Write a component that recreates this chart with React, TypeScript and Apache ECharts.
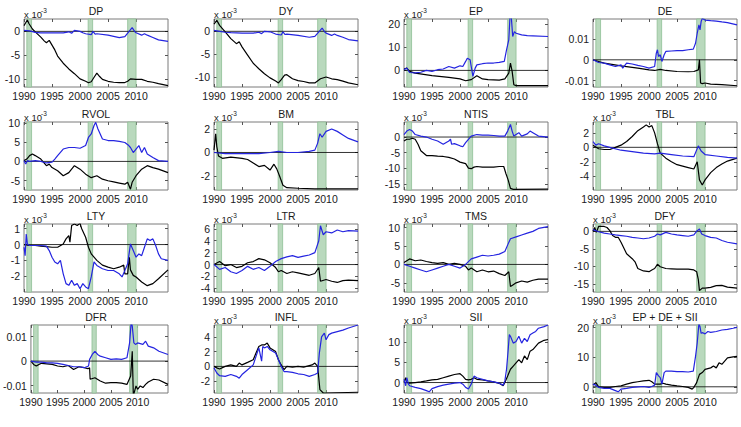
import React, { useEffect, useRef } from 'react';
import * as echarts from 'echarts';

const X_MIN = 1990;
const X_MAX = 2015.7;
const X_TICKS = [1990, 1995, 2000, 2005, 2010];
const RECESSIONS = [[1990.5, 1991.35], [2001.45, 2002.25], [2008.5, 2010.0]];

const DP_black = [[1990,1.2],[1990.3,1.8],[1990.6,2.4],[1990.9,1.6],[1991.5,0.5],[1992,-0.1],[1993,-1.2],[1993.6,-2.0],[1994,-2.4],[1994.5,-1.9],[1995,-2.9],[1995.5,-3.9],[1996,-5.2],[1997,-6.7],[1998,-7.9],[1999,-8.9],[2000,-10.0],[2001,-10.5],[2001.5,-10.8],[2002,-10.6],[2002.6,-9.5],[2003,-8.8],[2003.5,-9.5],[2004,-10.1],[2005,-10.5],[2006,-10.7],[2007,-10.8],[2007.9,-10.8],[2008.5,-10.5],[2009,-10.0],[2010,-10.1],[2011,-10.1],[2012,-10.5],[2013,-10.7],[2014,-11.0],[2015.7,-11.4]];
const DP_blue = [[1990,0.2],[1991,0.1],[1992,-0.2],[1993,-0.3],[1995,-0.3],[1997,-0.3],[1998,-0.1],[1998.5,-0.4],[1999,0.2],[2000,0],[2000.5,-0.3],[2001,-0.5],[2002,-0.7],[2002.3,0],[2002.7,-0.6],[2003,-0.5],[2005,-0.8],[2007,-1.3],[2008,-1.1],[2009.3,0.8],[2009.8,-0.1],[2010,-0.3],[2011,-0.8],[2011.5,-0.5],[2012,-0.8],[2013,-1.3],[2014,-1.8],[2015.7,-2.1]];

const DY_black = [[1990,1.6],[1990.5,2.4],[1991,1.3],[1992,-0.1],[1993,-1.6],[1994,-2.7],[1994.5,-2.3],[1995,-3.4],[1996,-5.2],[1997,-7.0],[1998,-8.2],[1999,-9.3],[2000,-10.2],[2001,-10.9],[2001.5,-11.3],[2002,-10.6],[2002.6,-9.6],[2003,-9.5],[2004,-10.4],[2005,-10.8],[2006,-11.0],[2007,-11.3],[2008,-11.3],[2009,-10.4],[2010,-10.0],[2011,-10.4],[2012,-10.6],[2013,-10.9],[2014,-11.3],[2015.7,-11.7]];
const DY_blue = [[1990,0.2],[1991,0],[1992,-0.2],[1993,-0.3],[1995,-0.4],[1997,-0.4],[1998,-0.2],[1998.5,-0.5],[1999,0],[2000,-0.1],[2001,-0.6],[2002,-0.8],[2002.3,-0.1],[2002.7,-0.7],[2003,-0.6],[2005,-0.9],[2007,-1.3],[2008,-1.1],[2009.3,0.7],[2009.8,-0.2],[2010,-0.4],[2011,-0.9],[2011.5,-0.6],[2012,-0.9],[2013,-1.3],[2014,-1.8],[2015.7,-2.1]];

const EP_black = [[1990,0.6],[1990.5,1.0],[1991,-0.4],[1992,-1.2],[1995,-2.3],[1998,-3.0],[2000,-3.7],[2001,-4.5],[2002,-4.0],[2003,-2.3],[2004,-3.7],[2005,-4.0],[2007,-4.2],[2008,-3.7],[2008.7,-1.2],[2009.0,3.2],[2009.3,-0.4],[2009.6,-6.2],[2010,-6.6],[2015.7,-6.6]];
const EP_blue = [[1990,0.3],[1990.5,1.0],[1991,-0.9],[1992,-1.1],[1993,-0.8],[1994,0],[1995,-0.4],[1996,0.3],[1997,0.6],[1998,1.7],[1999,1.0],[2000,2.0],[2000.5,1.7],[2001,3.9],[2001.3,5.3],[2001.8,4.6],[2002,1.7],[2002.3,-2.6],[2002.7,1.0],[2003,2.4],[2004,2.9],[2005,3.2],[2006,3.2],[2007,3.5],[2007.9,3.9],[2008.3,8.9],[2008.7,13.2],[2008.9,22.5],[2009.1,25],[2009.4,14.7],[2009.7,16.8],[2010,16.1],[2011,15.4],[2012,15.1],[2013,15.0],[2015.7,14.7]];

const DE_black = [[1990,0],[1991,-0.8],[1992,-1.6],[1995,-2.9],[1998,-4.0],[2000,-4.8],[2001,-5.1],[2002,-4.6],[2003,-5.1],[2005,-5.6],[2007,-5.7],[2008,-5.6],[2008.8,-4.8],[2009.0,0],[2009.2,-11.1],[2009.5,-11.4],[2010,-11.1],[2011,-11.6],[2013,-11.9],[2015.7,-12.4]];
const DE_blue = [[1990,0],[1991,-1.3],[1992,-1.6],[1993,-2.4],[1994,-3.2],[1995,-2.4],[1995.3,-4.0],[1996,-1.6],[1997,-2.0],[1998,-2.7],[1999,-3.2],[2000,-4.0],[2001,-3.2],[2001.3,3.2],[2001.5,4.8],[2001.7,1.6],[2002,2.4],[2002.3,-0.8],[2002.7,2.4],[2003,4.0],[2004,4.2],[2005,4.4],[2006,4.4],[2007,4.8],[2007.9,5.1],[2008.3,7.9],[2008.6,12.7],[2008.9,16.7],[2009.1,14.3],[2009.3,18.3],[2009.5,19.8],[2010,19.0],[2011,18.7],[2012,18.5],[2013,18.1],[2014,17.8],[2015.7,16.7]];

const RVOL_black = [[1990,0.2],[1990.5,0.6],[1991,1.5],[1991.5,1.9],[1992,1.5],[1993,0.6],[1994,-1.1],[1994.5,-0.7],[1995,-1.6],[1996,-2.4],[1997,-3.7],[1998,-2.9],[1999,-1.1],[2000,-2.0],[2001,-3.3],[2002,-4.2],[2003,-3.7],[2004,-4.6],[2005,-5.0],[2006,-5.3],[2007,-5.6],[2008,-5.9],[2008.5,-5.4],[2009.0,-7.2],[2009.3,-5.4],[2010,-3.7],[2011,-2.0],[2012,-1.1],[2013,-1.6],[2014,-2.0],[2015.7,-2.9]];
const RVOL_blue = [[1990,0.2],[1990.3,-0.7],[1990.6,0.2],[1991,0],[1992,0.2],[1993,0],[1994,-0.4],[1995,-0.2],[1995.5,0.6],[1996,1.5],[1997,3.2],[1998,3.6],[1999,3.6],[2000,3.4],[2001,4.1],[2001.5,6.2],[2002,7.1],[2002.5,9.3],[2002.8,10.1],[2003.2,8.4],[2004,5.8],[2005,5.4],[2006,5.4],[2007,5.2],[2008,4.9],[2008.7,4.1],[2009,3.6],[2009.5,2.3],[2010,3.2],[2010.5,4.1],[2011,2.3],[2011.5,3.6],[2012,1.9],[2013,1.0],[2014,0.2],[2015.7,0]];

const BM_black = [[1990,0.2],[1990.3,1.6],[1990.5,0.5],[1990.8,-0.3],[1991.5,-0.5],[1993,-0.4],[1995,-0.5],[1996,-0.6],[1997,-0.9],[1998,-1.2],[1999,-1.1],[2000,-1.5],[2000.7,-1.0],[2001.2,-1.4],[2001.7,-2.0],[2002.3,-2.8],[2003,-3.0],[2005,-3.05],[2008,-3.1],[2010,-3.1],[2015.7,-3.1]];
const BM_blue = [[1990,0],[1992,-0.1],[1995,-0.1],[1998,-0.1],[2000,0],[2001.5,0.1],[2003,0],[2005,0],[2007,0.1],[2008,0.2],[2008.5,0.8],[2008.9,1.6],[2009.3,1.3],[2010,1.8],[2011,2.0],[2012,1.8],[2013,1.5],[2014,1.2],[2015.7,0.9]];

const NTIS_black = [[1990,-1.25],[1990.5,-0.7],[1991,-0.7],[1991.5,-0.4],[1992,-0.7],[1992.5,-2.3],[1993,-4.4],[1994,-5.9],[1995,-5.9],[1996,-6.1],[1997,-6.2],[1998,-6.5],[1999,-7.0],[2000,-8.0],[2001,-8.5],[2001.5,-9.9],[2002,-10.1],[2002.5,-9.6],[2003,-9.4],[2004,-9.6],[2005,-9.6],[2006,-9.6],[2007,-9.4],[2007.8,-9.4],[2008.2,-11.7],[2008.6,-13.75],[2009,-16.4],[2009.5,-16.7],[2015.7,-16.6]];
const NTIS_blue = [[1990,0.8],[1990.5,1.9],[1991,2.4],[1991.5,1.9],[1992,0.8],[1993,0.3],[1994,0],[1995,-0.7],[1996,-1.25],[1997,-2.3],[1998,-1.25],[1998.3,-0.7],[1998.5,-2.3],[1999,-2.1],[2000,-2.8],[2000.5,-3.1],[2001,-1.8],[2002,0.3],[2003,0.8],[2004,0.6],[2005,0.6],[2006,0.5],[2007,0.3],[2008,0.3],[2008.5,1.9],[2009,4.0],[2009.3,1.9],[2009.6,0.3],[2010,0.8],[2010.5,1.4],[2011,0.3],[2012,1.0],[2012.5,1.9],[2013,1.4],[2014,0.3],[2015.7,0]];

const TBL_black = [[1990,0.3],[1991,-0.2],[1992,-0.3],[1993,-0.3],[1994,0],[1995,0.3],[1996,0.8],[1997,1.5],[1998,2.3],[1999,2.8],[1999.5,3.1],[2000,2.8],[2000.5,3.0],[2001,2.0],[2001.5,0.5],[2002,-0.8],[2003,-1.5],[2004,-2.0],[2005,-2.4],[2006,-2.6],[2007,-2.8],[2008,-3.0],[2008.6,-2.0],[2009,-4.5],[2009.5,-5.2],[2010,-4.5],[2011,-3.5],[2012,-2.8],[2013,-2.3],[2014,-1.9],[2015.7,-1.5]];
const TBL_blue = [[1990,0.8],[1990.5,0.3],[1991,0.5],[1992,0.2],[1993,0],[1995,-0.4],[1997,-0.6],[1999,-0.8],[2001,-0.9],[2002,-0.8],[2004,-1.0],[2006,-1.2],[2008,-1.3],[2008.8,0.2],[2009.3,-0.5],[2010,-1.0],[2012,-1.2],[2014,-1.4],[2015.7,-1.5]];

const LTY_black = [[1990,0],[1991,-0.06],[1992,-0.06],[1993,-0.1],[1994,-0.13],[1995,-0.17],[1996,-0.17],[1997,0.04],[1997.5,0.36],[1998,0.57],[1998.2,0.15],[1998.5,1.2],[1999,1.3],[1999.5,1.2],[2000,1.34],[2000.3,1.0],[2001,0.46],[2001.5,-0.17],[2002,-0.59],[2003,-1.0],[2004,-1.3],[2005,-1.43],[2006,-1.53],[2007,-1.43],[2007.8,-1.3],[2008,-1.85],[2008.5,-1.85],[2008.8,-0.8],[2009,-1.6],[2009.5,-1.95],[2010,-2.05],[2011,-2.37],[2012,-2.6],[2013,-2.47],[2014,-2.16],[2015.7,-1.6]];
const LTY_blue = [[1990,-0.17],[1990.2,-0.7],[1990.4,0.67],[1990.6,0.04],[1991,-0.06],[1992,-0.06],[1993,-0.06],[1994,-0.1],[1994.5,-0.38],[1995,-0.8],[1995.5,-1.1],[1996,-1.22],[1996.5,-1.0],[1997,-1.85],[1997.5,-2.47],[1998,-2.58],[1998.5,-2.26],[1999,-2.58],[1999.5,-2.47],[2000,-2.79],[2000.5,-2.47],[2001,-2.68],[2001.5,-2.79],[2002,-2.05],[2002.5,-1.1],[2003,-1.32],[2004,-1.53],[2005,-1.64],[2006,-1.64],[2007,-1.85],[2007.5,-2.05],[2008,-1.64],[2008.5,-1.22],[2009,0.04],[2009.5,-0.38],[2010,-0.8],[2010.5,-0.59],[2011,-0.7],[2011.5,-0.17],[2012,0.36],[2012.5,0.25],[2013,0.36],[2013.5,-0.06],[2014,-0.59],[2014.5,-0.9],[2015.7,-1.0]];

const LTR_black = [[1990,0],[1991,0.5],[1992,-0.2],[1993,0],[1994,-0.5],[1995,-0.3],[1996,0.3],[1997,0.5],[1998,1.0],[1999,0.8],[2000,0.3],[2001,-0.5],[2001.5,-1.2],[2002,-1.0],[2003,-1.5],[2004,-1.2],[2005,-1.4],[2006,-1.6],[2007,-1.8],[2008,-1.5],[2008.7,-0.5],[2009,-2.8],[2010,-2.5],[2011,-2.8],[2012,-3.0],[2013,-2.7],[2014,-2.6],[2015.7,-2.7]];
const LTR_blue = [[1990,0],[1991,-0.8],[1992,-0.5],[1993,-1.2],[1994,-1.5],[1995,-1.0],[1996,-0.3],[1997,-0.8],[1998,-0.5],[1999,-1.0],[2000,-0.3],[2001,0.5],[2002,1.0],[2003,1.3],[2004,1.5],[2005,1.2],[2006,1.4],[2007,1.6],[2008,2.0],[2008.7,4.0],[2009,6.5],[2009.5,5.0],[2010,5.5],[2011,5.3],[2012,5.8],[2013,5.5],[2014,5.7],[2015.7,5.6]];

const TMS_black = [[1990,0.5],[1991,1.5],[1992,1.0],[1993,1.2],[1994,0.8],[1995,0.5],[1996,0.3],[1997,0.5],[1998,0],[1999,0.3],[2000,0],[2001,-0.5],[2001.5,-1.5],[2002,-1.0],[2003,-2.0],[2004,-1.5],[2005,-2.0],[2006,-1.8],[2007,-2.5],[2008,-3.0],[2008.7,-2.0],[2009,-6.0],[2009.5,-5.5],[2010,-5.0],[2011,-4.5],[2012,-4.8],[2013,-4.3],[2014,-4.0],[2015.7,-4.0]];
const TMS_blue = [[1990,0],[1991,-0.5],[1992,-1.0],[1993,-1.5],[1994,-2.0],[1995,-1.5],[1996,-1.0],[1997,-0.5],[1998,0],[1999,-0.5],[2000,-1.0],[2001,0],[2002,1.5],[2003,2.0],[2004,2.5],[2005,2.3],[2006,2.5],[2007,2.8],[2008,3.5],[2008.7,6.0],[2009,7.0],[2010,7.5],[2011,8.0],[2012,8.5],[2013,9.0],[2014,9.8],[2015.7,10.3]];

const DFY_black = [[1990,0],[1990.3,1.1],[1990.6,-0.3],[1991,1.4],[1992,1.4],[1992.5,1.1],[1993,0.2],[1993.5,-1.2],[1994,-1.7],[1994.5,-1.7],[1995,-3.1],[1996,-6.4],[1997,-7.8],[1997.5,-8.7],[1998,-10.6],[1999,-11.3],[2000,-11.5],[2000.5,-11.0],[2001,-10.6],[2001.5,-9.4],[2002,-10.1],[2003,-10.6],[2004,-10.7],[2005,-10.8],[2006,-10.8],[2007,-10.8],[2008,-11.0],[2008.5,-11.5],[2008.8,-13.8],[2009,-16.9],[2009.5,-16.2],[2010,-16.2],[2011,-16.0],[2012,-15.5],[2013,-15.4],[2014,-15.9],[2015.7,-16.2]];
const DFY_blue = [[1990,0.5],[1991,-0.1],[1992,-0.5],[1993,-0.75],[1994,-1.0],[1995,-1.2],[1996,-1.4],[1997,-1.7],[1998,-1.9],[1999,-2.1],[2000,-1.9],[2001,-1.4],[2001.5,-0.75],[2002,-1.0],[2003,-0.3],[2004,-0.75],[2005,-1.0],[2006,-1.2],[2007,-1.4],[2008,-1.0],[2008.6,0.2],[2009,0.65],[2009.4,-0.75],[2010,-1.2],[2011,-1.7],[2012,-1.9],[2013,-2.6],[2014,-3.1],[2015.7,-3.55]];

const DFR_black = [[1990,0],[1990.5,-1.35],[1991,-2.0],[1991.5,-1.35],[1992,-0.9],[1993,-1.1],[1994,-1.35],[1995,-2.0],[1996,-2.3],[1997,-1.8],[1998,-3.4],[1999,-2.3],[2000,-2.7],[2000.7,-3.1],[2001,-2.7],[2001.1,-7.4],[2002,-6.8],[2003,-8.1],[2004,-9.0],[2005,-8.8],[2006,-8.8],[2007,-9.0],[2008,-9.5],[2008.7,-6.1],[2009.0,4.0],[2009.2,-14.2],[2009.7,-10.1],[2010,-11.5],[2010.5,-10.1],[2011,-10.8],[2011.5,-9.5],[2012,-8.5],[2013,-7.4],[2014,-7.7],[2015.7,-9.5]];
const DFR_blue = [[1990,0],[1991,-0.4],[1992,-0.4],[1993,-0.7],[1994,-0.7],[1995,-0.9],[1996,-1.35],[1997,-1.8],[1998,-2.3],[1999,-2.3],[2000,-2.7],[2000.8,-2.0],[2001,0.7],[2001.5,2.7],[2002,4.0],[2002.5,2.7],[2003,2.0],[2004,1.35],[2005,0.7],[2006,0.9],[2007,0.7],[2008,1.35],[2008.5,7.4],[2008.8,16],[2009.0,14.2],[2009.3,7.4],[2009.6,6.8],[2010,7.4],[2011,6.8],[2011.5,8.1],[2012,6.1],[2013,5.4],[2014,4.0],[2015.7,2.7]];

const INFL_black = [[1990,0],[1990.5,-0.2],[1991,-0.36],[1992,0],[1993,0.2],[1994,0],[1994.5,0.45],[1995,0.2],[1996,0.54],[1997,0.9],[1997.5,1.8],[1998,2.7],[1998.5,2.9],[1999,2.9],[1999.5,3.15],[2000,2.5],[2000.5,2.25],[2001,2.0],[2001.5,0.9],[2002,0.2],[2002.5,-0.45],[2003,0],[2004,-0.1],[2005,0],[2006,-0.1],[2007,0.1],[2007.5,0.2],[2008,0.45],[2008.5,0],[2008.9,-3.15],[2009.5,-3.6],[2010,-3.6],[2015.7,-3.5]];
const INFL_blue = [[1990,-0.2],[1990.5,-0.9],[1991,-1.26],[1992,-1.35],[1993,-1.1],[1994,-1.35],[1994.5,-1.6],[1995,-1.1],[1996,-0.45],[1997,0.2],[1997.5,1.35],[1998,2.5],[1998.5,0.7],[1998.7,2.7],[1999,2.5],[1999.5,2.7],[2000,2.25],[2001,1.8],[2001.5,0.9],[2002,0],[2002.5,-0.7],[2003,-0.7],[2004,-0.8],[2005,-1.0],[2006,-1.1],[2007,-1.35],[2008,-1.1],[2008.5,-0.9],[2008.8,1.8],[2009.2,4.0],[2009.7,4.5],[2010,3.6],[2010.5,4.3],[2011,4.5],[2012,4.7],[2013,4.9],[2014,5.2],[2015.7,5.6]];

const SII_black = [[1990,0],[1990.3,1.2],[1990.5,0],[1991,-0.16],[1992,0],[1993,0.16],[1994,0.4],[1995,0.65],[1996,0.8],[1997,1.2],[1998,1.6],[1999,2.0],[2000,2.2],[2000.5,1.6],[2001,0.8],[2001.5,0.65],[2002,0.8],[2002.5,1.2],[2003,0.8],[2004,0.65],[2005,0.4],[2006,0.16],[2007,-0.2],[2007.7,-0.8],[2008,0],[2008.5,1.6],[2009,3.3],[2009.5,4.1],[2010,4.9],[2010.5,5.7],[2011,4.9],[2011.5,6.6],[2012,5.7],[2012.5,7.8],[2013,8.2],[2013.5,9.0],[2014,9.8],[2015,10.5],[2015.7,10.7]];
const SII_blue = [[1990,0.8],[1990.3,-0.8],[1990.5,1.2],[1990.8,-0.4],[1991,-0.8],[1992,-1.2],[1993,-1.5],[1994,-2.0],[1994.5,-2.3],[1995,-1.5],[1996,-1.0],[1997,-0.65],[1998,-0.4],[1999,-0.16],[2000,0],[2000.5,-0.4],[2001,-1.2],[2001.5,-1.6],[2002,-0.4],[2002.5,1.6],[2003,1.2],[2004,0.8],[2005,0.4],[2006,0.16],[2007,-0.16],[2007.7,-0.65],[2008,0.4],[2008.3,3.3],[2008.6,8.2],[2008.8,11.9],[2009,11.5],[2009.5,9.8],[2010,10.2],[2010.5,11.5],[2011,9.8],[2011.5,11.0],[2012,10.2],[2012.5,11.9],[2013,12.3],[2013.5,12.7],[2014,13.5],[2015,13.9],[2015.7,14.3]];

const EDS_black = [[1990,0.55],[1990.5,1.4],[1991,0],[1992,-0.2],[1993,-0.2],[1994,0.1],[1995,0.3],[1996,0.9],[1997,1.4],[1998,1.7],[1999,2.0],[2000,2.2],[2000.5,1.7],[2001,0.9],[2002,0.9],[2002.5,1.2],[2003,0.9],[2004,0.55],[2005,0.3],[2006,0.1],[2007,-0.2],[2007.7,-0.8],[2008,-0.2],[2008.5,1.4],[2009,4.2],[2009.5,4.8],[2010,5.9],[2011,6.4],[2011.5,7.0],[2012,6.4],[2012.5,8.1],[2013,7.6],[2013.5,8.7],[2014,9.8],[2015,10.1],[2015.7,10.3]];
const EDS_blue = [[1990,0.9],[1990.5,0.55],[1991,-0.2],[1992,-0.55],[1993,-0.55],[1994,-1.3],[1994.5,-1.7],[1995,-0.8],[1996,-0.55],[1997,-0.2],[1998,0],[1999,0.1],[2000,-0.2],[2000.5,0.1],[2001,0.55],[2001.3,4.8],[2001.7,3.7],[2002,3.1],[2002.3,0.9],[2002.7,4.8],[2003,5.3],[2004,5.3],[2005,5.1],[2006,5.1],[2007,5.0],[2007.9,5.3],[2008.3,10.3],[2008.6,14.8],[2008.9,21.4],[2009.1,20.3],[2009.3,18.1],[2009.6,18.3],[2010,17.9],[2010.5,18.7],[2011,18.4],[2012,18.7],[2013,19.2],[2014,19.4],[2015,19.8],[2015.7,20.1]];

const PANELS = [
  { title: 'DP', black: DP_black, blue: DP_blue, yMin: -11.7, yMax: 2.6, ticks: [-10, -5, 0], exp: true },
  { title: 'DY', black: DY_black, blue: DY_blue, yMin: -12.2, yMax: 2.7, ticks: [-10, -5, 0], exp: true },
  { title: 'EP', black: EP_black, blue: EP_blue, yMin: -7.2, yMax: 22.3, ticks: [0, 10, 20], exp: true },
  { title: 'DE', black: DE_black, blue: DE_blue, yMin: -13, yMax: 19.5, ticks: [-10, 0, 10], exp: false },
  { title: 'RVOL', black: RVOL_black, blue: RVOL_blue, yMin: -7.4, yMax: 10.2, ticks: [-5, 0, 5, 10], exp: true },
  { title: 'BM', black: BM_black, blue: BM_blue, yMin: -3.2, yMax: 2.6, ticks: [-2, 0, 2], exp: true },
  { title: 'NTIS', black: NTIS_black, blue: NTIS_blue, yMin: -16.9, yMax: 4.8, ticks: [-15, -10, -5, 0], exp: true },
  { title: 'TBL', black: TBL_black, blue: TBL_blue, yMin: -5.9, yMax: 3.5, ticks: [-4, -2, 0, 2], exp: true },
  { title: 'LTY', black: LTY_black, blue: LTY_blue, yMin: -3.0, yMax: 1.3, ticks: [-2, -1, 0, 1], exp: true },
  { title: 'LTR', black: LTR_black, blue: LTR_blue, yMin: -4.6, yMax: 6.8, ticks: [-4, -2, 0, 2, 4, 6], exp: true },
  { title: 'TMS', black: TMS_black, blue: TMS_blue, yMin: -7.5, yMax: 11, ticks: [-5, 0, 5, 10], exp: true },
  { title: 'DFY', black: DFY_black, blue: DFY_blue, yMin: -17.3, yMax: 2.1, ticks: [-15, -10, -5, 0], exp: true },
  { title: 'DFR', black: DFR_black, blue: DFR_blue, yMin: -13, yMax: 14.7, ticks: [-10, 0, 10], exp: false },
  { title: 'INFL', black: INFL_black, blue: INFL_blue, yMin: -3.6, yMax: 5.6, ticks: [-2, 0, 2, 4], exp: true },
  { title: 'SII', black: SII_black, blue: SII_blue, yMin: -2.6, yMax: 14.3, ticks: [0, 5, 10], exp: true },
  { title: 'EP + DE + SII', black: EDS_black, blue: EDS_blue, yMin: -2.1, yMax: 20.9, ticks: [0, 10, 20], exp: true },
];

const COL_LEFT = [24, 214, 404, 593];
const ROW_TOP = [19, 122, 224, 325];
const W = 144;
const H = 68;
const FONT = '"Liberation Sans", Arial, Helvetica, sans-serif';
const TXT = '#1a1a1a';

function buildOption() {
  const grid: any[] = [];
  const xAxis: any[] = [];
  const yAxis: any[] = [];
  const series: any[] = [];
  const graphic: any[] = [];
  PANELS.forEach((p, i) => {
    const left = COL_LEFT[i % 4];
    const top = ROW_TOP[Math.floor(i / 4)];
    grid.push({ left, top, width: W, height: H, show: true, borderColor: '#7a7a7a', borderWidth: 1, backgroundColor: 'transparent' });
    const tickStyle = { color: '#555', width: 1 };
    const baseX = {
      gridIndex: i, type: 'value', min: X_MIN, max: X_MAX,
      axisLine: { show: false, onZero: false },
      splitLine: { show: false },
      axisTick: { show: true, inside: true, length: 3, customValues: X_TICKS, lineStyle: tickStyle },
    };
    xAxis.push({ ...baseX, position: 'bottom',
      axisLabel: { show: true, customValues: X_TICKS, formatter: (v: number) => String(Math.round(v)), fontSize: 10.5, margin: 3, color: TXT, fontFamily: FONT } });
    xAxis.push({ ...baseX, position: 'top', axisLabel: { show: false } });
    const fmt = p.exp ? (v: number) => String(v) : (v: number) => (v === 0 ? '0' : String(v / 1000));
    const baseY = {
      gridIndex: i, type: 'value', min: p.yMin, max: p.yMax,
      axisLine: { show: false, onZero: false },
      splitLine: { show: false },
      axisTick: { show: true, inside: true, length: 3, customValues: p.ticks, lineStyle: tickStyle },
    };
    yAxis.push({ ...baseY, position: 'left',
      axisLabel: { show: true, customValues: p.ticks, formatter: fmt, fontSize: 10.5, margin: 4, color: TXT, fontFamily: FONT } });
    yAxis.push({ ...baseY, position: 'right', axisLabel: { show: false } });

    series.push({
      type: 'line', xAxisIndex: 2 * i, yAxisIndex: 2 * i,
      data: [[X_MIN, 0], [X_MAX, 0]], symbol: 'none', silent: true, z: 2,
      lineStyle: { color: '#000', width: 0.8 },
      markArea: {
        silent: true,
        itemStyle: { color: '#b9d9bd', borderColor: '#8fbf96', borderWidth: 0.8 },
        data: RECESSIONS.map((r) => [{ xAxis: r[0] }, { xAxis: r[1] }]),
      },
    });
    series.push({
      type: 'line', xAxisIndex: 2 * i, yAxisIndex: 2 * i, data: p.black,
      symbol: 'none', z: 3, lineStyle: { color: '#000000', width: 1.2 },
    });
    series.push({
      type: 'line', xAxisIndex: 2 * i, yAxisIndex: 2 * i, data: p.blue,
      symbol: 'none', z: 4, lineStyle: { color: '#2424e0', width: 1.2 },
    });

    graphic.push({
      type: 'text', x: left + W / 2, y: top - 8.5,
      style: { text: p.title, font: `10.5px ${FONT}`, fill: TXT, textAlign: 'center', textVerticalAlign: 'middle', align: 'center', verticalAlign: 'middle' },
    });
    if (p.exp) {
      graphic.push({
        type: 'text', x: left, y: top - 4.5,
        style: { text: 'x 10', font: `9.5px ${FONT}`, fill: TXT, textAlign: 'left', textVerticalAlign: 'middle', align: 'left', verticalAlign: 'middle' },
      });
      graphic.push({
        type: 'text', x: left + 17, y: top - 9,
        style: { text: '-3', font: `6.5px ${FONT}`, fill: TXT, textAlign: 'left', textVerticalAlign: 'middle', align: 'left', verticalAlign: 'middle' },
      });
    }
  });
  return { animation: false, backgroundColor: '#ffffff', grid, xAxis, yAxis, series, graphic };
}

export default function App() {
  const ref = useRef<HTMLDivElement>(null);
  useEffect(() => {
    document.body.style.margin = '0';
    const chart = echarts.init(ref.current as HTMLDivElement, null, { renderer: 'svg' });
    chart.setOption(buildOption() as any);
    return () => chart.dispose();
  }, []);
  return <div ref={ref} style={{ width: 741, height: 427 }} />;
}
